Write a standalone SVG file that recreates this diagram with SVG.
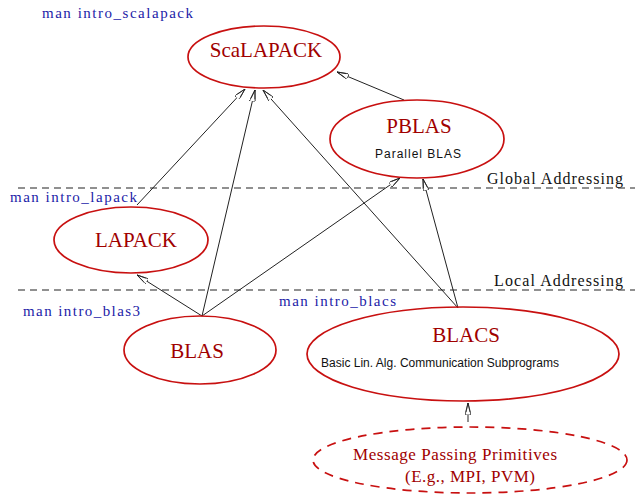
<svg xmlns="http://www.w3.org/2000/svg" width="635" height="496" viewBox="0 0 635 496">
<style>
.node ellipse{fill:none;stroke:#c81010;stroke-width:1.7}
.dashed ellipse{stroke-dasharray:9 7}
.title{font-family:"Liberation Serif","Times New Roman",serif;font-size:21px;fill:#a00000;text-anchor:middle}
.sub{font-family:"Liberation Sans",Arial,sans-serif;font-size:12px;fill:#111;text-anchor:middle}
.mp{font-family:"Liberation Serif","Times New Roman",serif;font-size:17px;fill:#a00000;text-anchor:middle}
.man{font-family:"Liberation Serif","Times New Roman",serif;font-size:15px;fill:#1c1ca8}
.addr{font-family:"Liberation Serif","Times New Roman",serif;font-size:16px;fill:#111}
.sep{stroke:#222;stroke-width:1.2;stroke-dasharray:7 5}
.edge{stroke:#222;stroke-width:1;fill:none;marker-end:url(#arr)}
</style>
<defs>
<marker id="arr" viewBox="0 0 12 6" refX="12" refY="3" markerWidth="12" markerHeight="6" markerUnits="userSpaceOnUse" orient="auto">
<path d="M0,0 L12,3 L0,6 Z M3,1 L12,3 L3,5" fill="#fff" stroke="#222" stroke-width="0.8"/>
</marker>
</defs>
<rect width="635" height="496" fill="#fff"/>
<g id="separators">
<line class="sep" x1="18" y1="188" x2="635" y2="188"/>
<line class="sep" x1="18" y1="290" x2="635" y2="290"/>
<text class="addr" x="487" y="184" textLength="136">Global Addressing</text>
<text class="addr" x="494" y="286" textLength="129">Local Addressing</text>
</g>
<g id="man-labels">
<text class="man" x="42" y="18" textLength="151">man intro_scalapack</text>
<text class="man" x="10" y="202" textLength="127">man intro_lapack</text>
<text class="man" x="23" y="316" textLength="117">man intro_blas3</text>
<text class="man" x="279" y="306" textLength="117">man intro_blacs</text>
</g>
<g id="connectors">
<line class="edge" x1="404" y1="100" x2="337" y2="72"/>
<line class="edge" x1="137" y1="205" x2="245" y2="89"/>
<line class="edge" x1="202" y1="316" x2="255" y2="90"/>
<line class="edge" x1="458" y1="308" x2="263" y2="90"/>
<line class="edge" x1="202" y1="316" x2="400" y2="178"/>
<line class="edge" x1="458" y1="308" x2="423" y2="179"/>
<line class="edge" x1="202" y1="316" x2="137" y2="275"/>
<line class="edge" x1="468" y1="422" x2="468" y2="403"/>
</g>
<g id="scalapack" class="node">
<ellipse cx="264" cy="57" rx="76" ry="31"/>
<text class="title" x="266" y="57">ScaLAPACK</text>
</g>
<g id="pblas" class="node">
<ellipse cx="417" cy="139" rx="87" ry="39"/>
<text class="title" x="419" y="133">PBLAS</text>
<text class="sub" x="418" y="158" textLength="86">Parallel BLAS</text>
</g>
<g id="lapack" class="node">
<ellipse cx="131" cy="240" rx="77" ry="33"/>
<text class="title" x="136" y="247">LAPACK</text>
</g>
<g id="blas" class="node">
<ellipse cx="200" cy="350" rx="76" ry="34"/>
<text class="title" x="197" y="358">BLAS</text>
</g>
<g id="blacs" class="node">
<ellipse cx="463" cy="354" rx="156" ry="47"/>
<text class="title" x="466" y="342">BLACS</text>
<text class="sub" x="440" y="367" textLength="238">Basic Lin. Alg. Communication Subprograms</text>
</g>
<g id="mpp" class="node dashed">
<ellipse cx="470" cy="460" rx="157" ry="33"/>
<text class="mp" x="455" y="460" textLength="204">Message Passing Primitives</text>
<text class="mp" x="470" y="482" textLength="130">(E.g., MPI, PVM)</text>
</g>
</svg>
